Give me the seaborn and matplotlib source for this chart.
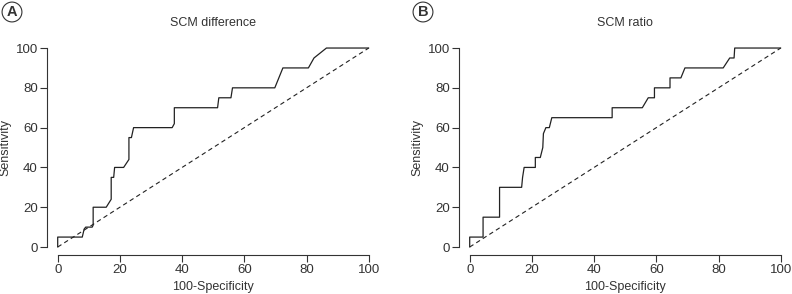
import matplotlib
matplotlib.use("Agg")
import matplotlib.pyplot as plt
import pandas as pd
import seaborn as sns

# ROC curve points (100-specificity, sensitivity)
diff_fpr = [0, 0, 7.9, 8.5, 9.0, 11.1, 11.4, 11.4, 15.6, 17.2, 17.2, 18.0, 18.3, 21.2,
            22.9, 22.9, 23.7, 24.4, 36.8, 37.5, 37.5, 51.4, 51.8, 55.7, 56.2, 69.8,
            72.4, 80.6, 82.4, 86.4, 100]
diff_tpr = [0, 5, 5, 9, 10, 10, 11, 20, 20, 24, 35, 35, 40, 40,
            44, 55, 55, 60, 60, 62, 70, 70, 75, 75, 80, 80,
            90, 90, 95, 100, 100]

ratio_fpr = [0, 0, 4.3, 4.3, 9.6, 9.6, 16.7, 17.0, 17.5, 21.1, 21.1, 22.7, 23.5, 23.7,
             24.5, 25.6, 26.4, 45.8, 45.8, 55.5, 57.4, 59.4, 59.4, 64.4, 64.4, 67.9,
             69.2, 81.5, 83.6, 85.0, 85.2, 100]
ratio_tpr = [0, 5, 5, 15, 15, 30, 30, 35, 40, 40, 45, 45, 50, 57,
             60, 60, 65, 65, 70, 70, 75, 75, 80, 80, 85, 85,
             90, 90, 95, 95, 100, 100]

titles = ["SCM difference", "SCM ratio"]
letters = ["A", "B"]
ticks = [0, 20, 40, 60, 80, 100]

sns.set_style("ticks")
plt.rcParams["font.family"] = ["Liberation Sans", "DejaVu Sans"]
txt = "#333333"

fig = plt.figure(figsize=(7.92, 2.94), dpi=100)
positions = [[46.5 / 792, 0.1327, 0.421, 0.731], [458.5 / 792, 0.1327, 0.421, 0.731]]
curves = [(diff_fpr, diff_tpr), (ratio_fpr, ratio_tpr)]
letter_x = [12 / 792, 423 / 792]

for i in range(2):
    ax = fig.add_axes(positions[i])
    df = pd.DataFrame({"fpr": curves[i][0], "tpr": curves[i][1]})
    sns.lineplot(data=df, x="fpr", y="tpr", estimator=None, sort=False,
                 color="#222222", linewidth=0.9, ax=ax)
    ref = pd.DataFrame({"x": [0, 100], "y": [0, 100]})
    sns.lineplot(data=ref, x="x", y="y", color="#222222", linewidth=0.8,
                 linestyle=(0, (4, 3)), ax=ax)
    ax.set_xlim(-3.6, 103.6)
    ax.set_ylim(-4, 104)
    ax.set_xticks(ticks)
    ax.set_yticks(ticks)
    ax.spines["top"].set_visible(False)
    ax.spines["right"].set_visible(False)
    ax.spines["left"].set_bounds(0, 100)
    ax.spines["bottom"].set_bounds(0, 100)
    for s in ["left", "bottom"]:
        ax.spines[s].set_color("#333333")
        ax.spines[s].set_linewidth(0.8)
    ax.tick_params(length=4.8, width=0.8, color="#333333", labelsize=9.5,
                   labelcolor=txt, pad=1.5)
    ax.set_xlabel("100-Specificity", fontsize=9, color=txt, labelpad=4)
    ax.set_ylabel("Sensitivity", fontsize=9, color=txt, labelpad=3)
    ax.set_title(titles[i], fontsize=9, color=txt, pad=10)
    fig.text(letter_x[i], 1 - 12 / 294, letters[i], ha="center", va="center",
             fontsize=10.5, fontweight="bold", color=txt,
             bbox=dict(boxstyle="circle,pad=0.2", fc="white", ec="#333333", lw=0.8))

fig.savefig("out.png", dpi=100)
